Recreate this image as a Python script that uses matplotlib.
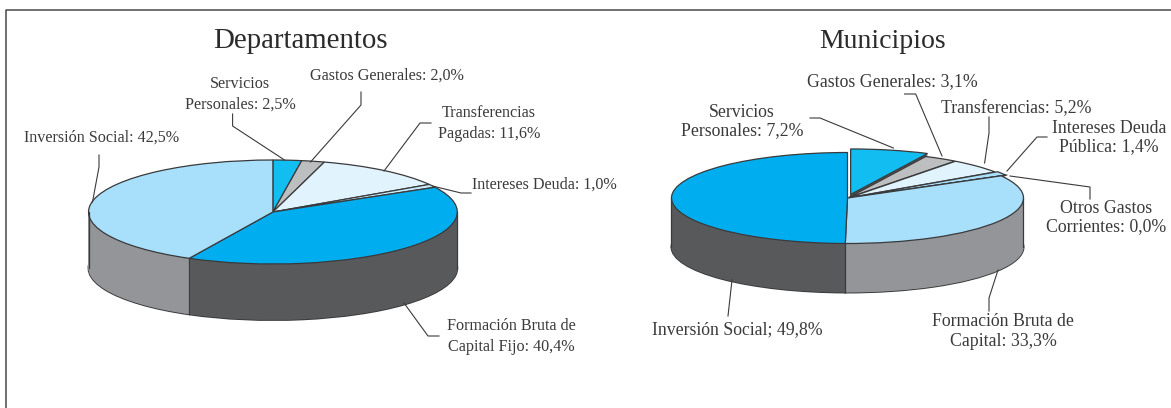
import numpy as np
import matplotlib
matplotlib.use('Agg')
import matplotlib.pyplot as plt

plt.rcParams['font.family'] = ['Liberation Serif', 'DejaVu Serif']

W, H = 1171, 408
DARK = '#3a3a3c'

# Departamentos, clockwise from the top
dep_values = [2.5, 2.0, 11.6, 1.0, 40.4, 42.5]
dep_top = ['#12bdf2', '#bcbec0', '#e1f4fd', '#c9ebfb', '#00aeef', '#a8dffb']
dep_side = ['#939598', '#939598', '#939598', '#939598', '#58595b', '#939598']

# Municipios, clockwise from the top
mun_values = [7.2, 3.1, 5.2, 1.4, 0.0, 33.3, 49.8]
mun_top = ['#12bdf2', '#bcbec0', '#e1f4fd', '#a8dffb', '#bcbec0', '#a8dffb', '#00aeef']
mun_side = ['#58595b', '#939598', '#939598', '#939598', '#939598', '#939598', '#58595b']


def pie_3d(cx, cy, rx, ry, depth, values, top, side, explode=None):
    # axes in pixel terms: one x unit is rx, one y unit is ry
    pad = 1.2
    bottom_px = cy + ry * pad + depth
    ax = fig.add_axes([(cx - rx * pad) / W, 1 - bottom_px / H,
                       2 * rx * pad / W, (ry * pad * 2 + depth) / H])
    d = depth / ry
    opts = dict(startangle=90, counterclock=False, explode=explode, radius=1)

    ax.pie(values, colors=side, center=(0, -d),
           wedgeprops=dict(edgecolor=DARK, linewidth=1.4), **opts)
    for off in np.arange(d, 0, -0.5 / ry):
        ax.pie(values, colors=side, center=(0, -off),
               wedgeprops=dict(linewidth=0), **opts)

    # vertical edges of the side wall
    ax.plot([-1, -1], [0, -d], color=DARK, lw=0.9)
    ax.plot([1, 1], [0, -d], color=DARK, lw=0.9)
    cum = np.cumsum(values) / np.sum(values)
    for c in cum[:-1]:
        yy = np.cos(2 * np.pi * c)
        if yy < -0.5:
            xx = np.sin(2 * np.pi * c)
            ax.plot([xx, xx], [yy, yy - d], color=DARK, lw=0.9)

    ax.pie(values, colors=top,
           wedgeprops=dict(edgecolor=DARK, linewidth=0.9), **opts)
    ax.set_aspect('auto')
    ax.set_xlim(-pad, pad)
    ax.set_ylim(-pad - d, pad)
    ax.axis('off')
    return ax


fig = plt.figure(figsize=(W / 100, H / 100), dpi=100)

pie_3d(272.9, 212, 184.4, 52, 56, dep_values, dep_top, dep_side)
pie_3d(847.5, 198, 176, 45.5, 49, mun_values, mun_top, mun_side,
       explode=[0.08, 0.015, 0.015, 0.03, 0.04, 0, 0])

# overlay in image pixels for frame, labels and leader lines
ov = fig.add_axes([0, 0, 1, 1], facecolor='none')
ov.set_xlim(0, W)
ov.set_ylim(H, 0)
ov.axis('off')

ov.plot([6, 6, W], [H, 10, 10], color='#48484a', lw=1.1)

leaders = [
    [(232.6, 114), (232.6, 126), (284.5, 160)],
    [(361, 92), (361, 105), (310.5, 162)],
    [(431, 123), (420, 123), (384, 171)],
    [(471, 193), (461, 193), (432.5, 186)],
    [(99, 155), (99, 167), (92.5, 202)],
    [(439, 336), (428, 336), (404, 303)],
    [(810, 118), (820, 118), (893.4, 148)],
    [(904.6, 94), (915.7, 94), (942, 156)],
    [(989, 117), (989, 133), (984.6, 163)],
    [(1047, 137), (1037, 137), (1007, 171)],
    [(1090, 199), (1090, 187), (1010, 176)],
    [(989, 311), (989, 298), (998, 270)],
    [(728, 316), (732, 280)],
]
for pts in leaders:
    xs, ys = zip(*pts)
    ov.plot(xs, ys, color='#3a3a3c', lw=0.8)

labels_left = [
    (240, 94.5, 'Servicios\nPersonales: 2,5%', 1.35),
    (387, 75.5, 'Gastos Generales: 2,0%', 1.0),
    (489, 123.5, 'Transferencias\nPagadas: 11,6%', 1.35),
    (102, 137.5, 'Inversión Social: 42,5%', 1.0),
    (544, 184.5, 'Intereses Deuda: 1,0%', 1.0),
    (511, 336.5, 'Formación Bruta de\nCapital Fijo: 40,4%', 1.35),
]
labels_right = [
    (742, 121.5, 'Servicios\nPersonales: 7,2%', 1.02),
    (892, 81.5, 'Gastos Generales: 3,1%', 1.0),
    (1016, 108.5, 'Transferencias: 5,2%', 1.0),
    (1109, 137.5, 'Intereses Deuda\nPública: 1,4%', 1.05),
    (1106, 217.5, 'Otros Gastos\nCorrientes: 0,0%', 1.02),
    (1003, 331.5, 'Formación Bruta de\nCapital: 33,3%', 1.22),
    (737, 329.5, 'Inversión Social; 49,8%', 1.0),
]
for x, y, s, ls in labels_left:
    ov.text(x, y, s, ha='center', va='center', fontsize=11.6, color='#3a3a3a', linespacing=ls)
for x, y, s, ls in labels_right:
    ov.text(x, y, s, ha='center', va='center', fontsize=12.8, color='#3a3a3a', linespacing=ls)

ov.text(300, 41, 'Departamentos', ha='center', va='center', fontsize=20.8, color='#2b2b2b')
ov.text(883, 41, 'Municipios', ha='center', va='center', fontsize=20, color='#2b2b2b')

fig.savefig('out.png', dpi=100)
